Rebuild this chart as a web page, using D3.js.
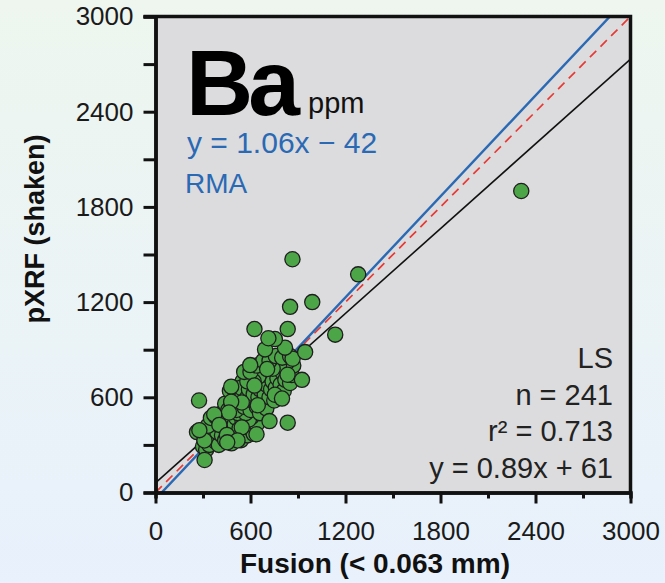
<!DOCTYPE html>
<html>
<head>
<meta charset="utf-8">
<script src="https://cdn.jsdelivr.net/npm/d3@7"></script>
<style>
  body { margin: 0; }
  svg { display: block; }
</style>
</head>
<body>
<div id="chart"></div>
<script>
// Ba, fusion (< 0.063 mm) vs pXRF (shaken), ppm
const fusion = [
  270, 290, 262, 310, 300, 320, 340, 330, 350, 370, 360, 380, 400, 390, 410, 420,
  430, 440, 450, 460, 470, 480, 490, 500, 510, 520, 530, 540, 550, 560, 570, 580,
  600, 620, 640, 610, 590, 330, 350, 380, 420, 440, 520, 570, 600, 520, 550,
  460, 480, 500, 470, 490, 510, 530, 550, 540, 560, 580, 590, 600, 610, 620, 630,
  640, 650, 660, 670, 680, 690, 700, 660, 700, 720, 730, 710, 740, 750, 760, 770,
  780, 790, 800, 810, 820, 840, 850, 860, 870, 830, 780, 740, 700, 650, 620, 580,
  560, 600, 640, 680, 720, 760, 800, 850,
  598, 705, 625, 834, 754, 799, 646, 545, 478, 478, 464, 371, 403, 545, 451, 309,
  277, 638, 518, 453, 866, 818, 692, 754, 713, 720, 925, 945,
  2310, 865, 1280, 990, 850, 1135, 625, 835, 275, 835, 310
]
const pxrf = [
  380, 390, 381, 330, 290, 270, 300, 360, 400, 440, 350, 320, 300, 380, 420, 360,
  470, 330, 400, 440, 360, 310, 380, 430, 470, 350, 400, 330, 450, 380, 420, 360,
  400, 370, 430, 480, 460, 420, 470, 480, 500, 560, 500, 500, 560, 640, 700,
  520, 560, 600, 640, 660, 520, 580, 620, 660, 540, 600, 650, 520, 580, 620, 680,
  540, 600, 650, 700, 560, 620, 680, 500, 530, 600, 650, 740, 700, 580, 660, 720,
  620, 680, 760, 640, 710, 770, 690, 740, 800, 820, 800, 780, 780, 730, 700, 700,
  760, 760, 800, 830, 830, 860, 850, 860,
  803, 778, 674, 742, 616, 592, 550, 567, 667, 572, 504, 492, 426, 410, 363, 328,
  393, 367, 328, 316, 843, 913, 902, 967, 972, 450, 710, 885,
  1900, 1470, 1375, 1200, 1170, 995, 1030, 1030, 580, 440, 205
]

const majorTicks = [0, 600, 1200, 1800, 2400, 3000]
const minorTicks = [300, 900, 1500, 2100, 2700]
const lsFit = [0.89, 61]      // slope, intercept
const rmaFit = [1.06, -42]
const statsLines = ['LS', 'n = 241', 'r\u00B2 = 0.713', 'y = 0.89x + 61']

const width = 665
const height = 583
const font = '"Liberation Sans", Arial, sans-serif'

const svg = d3.select('#chart')
              .append('svg')
              .attr('width', width)
              .attr('height', height)

// page background
const grad = svg.append('defs').append('linearGradient')
                .attr('id', 'bg').attr('x1', 0).attr('y1', 0).attr('x2', 0).attr('y2', 1)
grad.append('stop').attr('offset', '0%').attr('stop-color', '#eef6ef')
grad.append('stop').attr('offset', '100%').attr('stop-color', '#e8f1fc')
svg.append('rect').attr('width', width).attr('height', height).attr('fill', 'url(#bg)')

const x = d3.scaleLinear().domain([0, 3000]).range([155.5, 630.5])
const y = d3.scaleLinear().domain([0, 3000]).range([492.5, 16.5])

svg.append('clipPath').attr('id', 'plotClip')
   .append('rect')
   .attr('x', x(0)).attr('y', y(3000))
   .attr('width', x(3000) - x(0)).attr('height', y(0) - y(3000))

svg.append('rect')
   .attr('x', x(0)).attr('y', y(3000))
   .attr('width', x(3000) - x(0)).attr('height', y(0) - y(3000))
   .attr('fill', '#dcdcde')

// fit lines
const lines = svg.append('g').attr('clip-path', 'url(#plotClip)')
const fitLine = (fit) => [[0, fit[1]], [3000, fit[0] * 3000 + fit[1]]]
const line = d3.line().x(d => x(d[0])).y(d => y(d[1]))

lines.append('path')
     .attr('d', line(fitLine(lsFit)))
     .attr('stroke', '#111').attr('stroke-width', 1.6).attr('fill', 'none')
lines.append('path')
     .attr('d', line([[0, 0], [3000, 3000]]))
     .attr('stroke', '#e83a35').attr('stroke-width', 1.7).attr('fill', 'none')
     .attr('stroke-dasharray', '9,6')
lines.append('path')
     .attr('d', line(fitLine(rmaFit)))
     .attr('stroke', '#2a69b4').attr('stroke-width', 2.4).attr('fill', 'none')

// points
svg.append('g')
   .selectAll('circle')
   .data(d3.range(fusion.length))
   .enter()
   .append('circle')
   .attr('cx', i => x(fusion[i]))
   .attr('cy', i => y(pxrf[i]))
   .attr('r', 7.6)
   .attr('fill', '#4ca547')
   .attr('stroke', '#1f1f1f')
   .attr('stroke-width', 1.3)

// frame (top and right)
svg.append('path')
   .attr('d', `M${x(0) - 12},${y(3000)}H${x(3000)}V${y(0)}`)
   .attr('fill', 'none').attr('stroke', '#111').attr('stroke-width', 3.5)

// axes
const styleAxis = (g) => {
    g.select('.domain').attr('stroke', '#111').attr('stroke-width', 3.5)
    g.selectAll('.tick line').attr('stroke', '#111').attr('stroke-width', 3)
    g.selectAll('.tick text').attr('fill', '#1a1a1a')
     .style('font', `26px ${font}`)
}

svg.append('g')
   .attr('transform', `translate(0,${y(0)})`)
   .call(d3.axisBottom(x).tickValues(minorTicks).tickSize(6).tickFormat(''))
   .call(styleAxis)
svg.append('g')
   .attr('transform', `translate(0,${y(0)})`)
   .call(d3.axisBottom(x).tickValues(majorTicks).tickSize(11).tickSizeOuter(0).tickPadding(18).tickFormat(d3.format('d')))
   .call(styleAxis)

svg.append('g')
   .attr('transform', `translate(${x(0)},0)`)
   .call(d3.axisLeft(y).tickValues(minorTicks).tickSize(12).tickFormat(''))
   .call(styleAxis)
svg.append('g')
   .attr('transform', `translate(${x(0)},0)`)
   .call(d3.axisLeft(y).tickValues(majorTicks).tickSize(12).tickSizeOuter(0).tickPadding(10).tickFormat(d3.format('d')))
   .call(styleAxis)

// axis titles
svg.append('text')
   .attr('x', 375).attr('y', 573)
   .attr('text-anchor', 'middle')
   .style('font', `bold 28px ${font}`)
   .attr('fill', '#111')
   .text('Fusion (< 0.063 mm)')

svg.append('text')
   .attr('transform', 'translate(44,229) rotate(-90)')
   .attr('text-anchor', 'middle')
   .style('font', `bold 27px ${font}`)
   .attr('fill', '#111')
   .text('pXRF (shaken)')

// labels inside plot
svg.append('text')
   .attr('x', 186).attr('y', 115)
   .style('font', `bold 93px ${font}`)
   .attr('letter-spacing', -5)
   .attr('fill', '#000')
   .text('Ba')
svg.append('text')
   .attr('x', 308).attr('y', 113)
   .style('font', `29px ${font}`)
   .attr('fill', '#111')
   .text('ppm')

svg.append('text')
   .attr('x', 187).attr('y', 153)
   .style('font', `30px ${font}`)
   .attr('fill', '#2a69b4')
   .text('y = 1.06x \u2212 42')
svg.append('text')
   .attr('x', 185).attr('y', 193)
   .style('font', `28px ${font}`)
   .attr('fill', '#2a69b4')
   .text('RMA')

svg.append('g')
   .selectAll('text')
   .data(statsLines)
   .enter()
   .append('text')
   .attr('x', 613)
   .attr('y', (_, i) => 368 + i * 36.5)
   .attr('text-anchor', 'end')
   .style('font', `29px ${font}`)
   .attr('fill', '#222')
   .text(d => d)
</script>
</body>
</html>
